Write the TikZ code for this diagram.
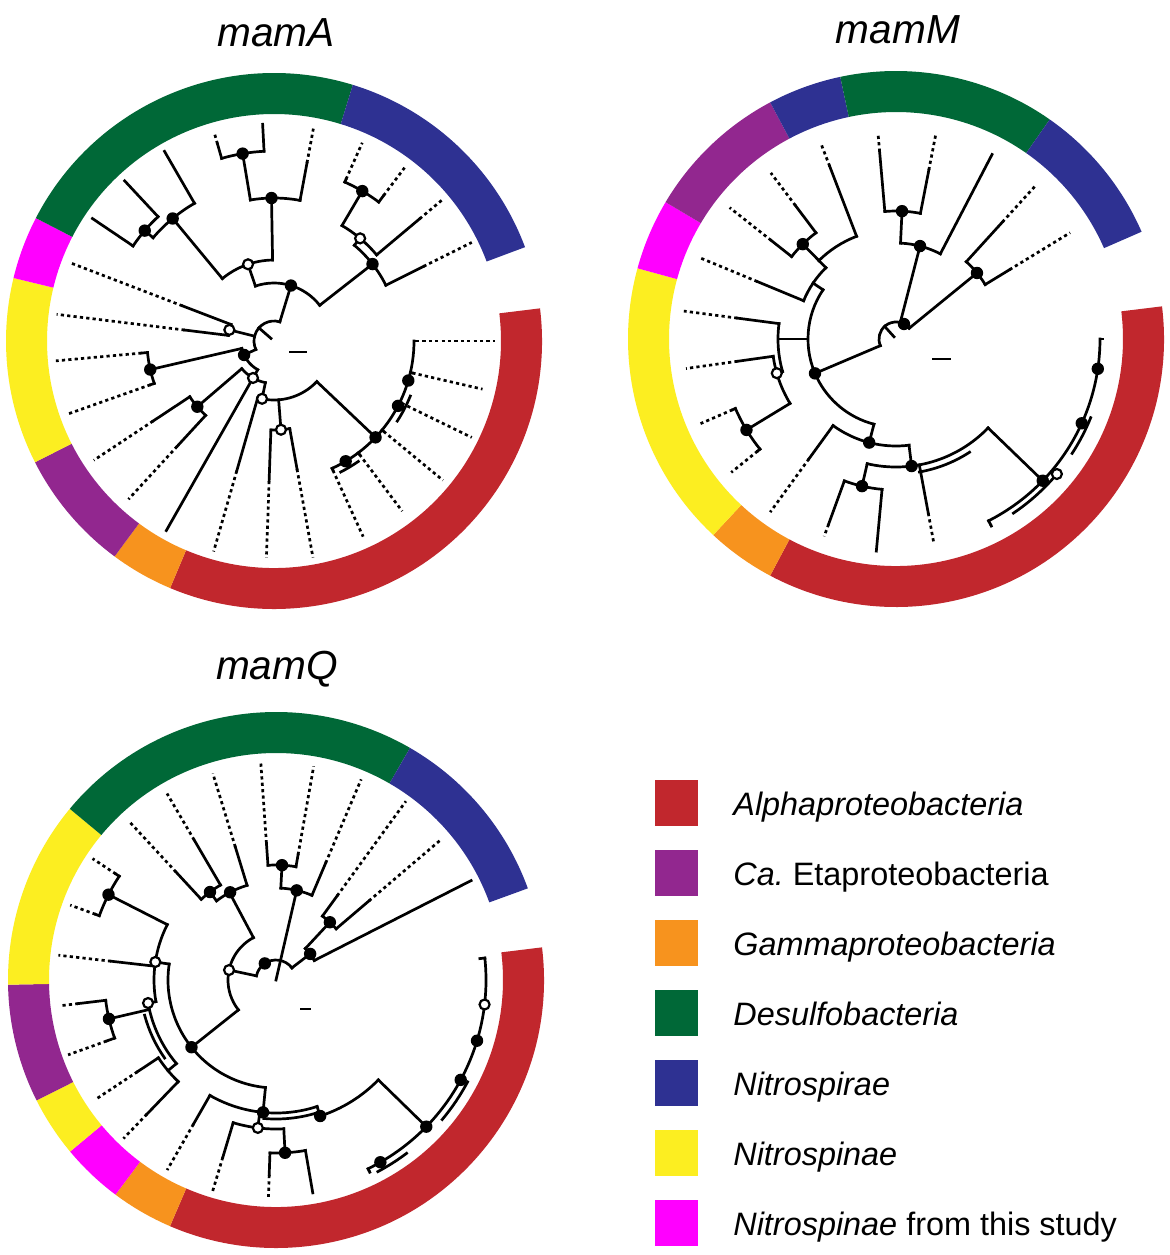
\documentclass[tikz,border=0pt]{standalone}
\usepackage{fontspec}
\setmainfont{Liberation Sans}
\definecolor{cRed}{RGB}{193,39,45}
\definecolor{cPur}{RGB}{146,39,143}
\definecolor{cOra}{RGB}{247,147,30}
\definecolor{cGre}{RGB}{0,104,55}
\definecolor{cBlu}{RGB}{46,49,146}
\definecolor{cYel}{RGB}{252,238,33}
\definecolor{cMag}{RGB}{255,0,255}
\tikzset{
  br/.style={line width=1.35pt, line cap=rect, black},
  dt/.style={line width=1.35pt, dash pattern=on 1.6pt off 1.6pt, black},
  ttl/.style={font=\fontsize{20.3}{24}\selectfont\itshape, anchor=base},
  lgt/.style={font=\fontsize{16.2}{20}\selectfont, anchor=base west, inner sep=0pt},
  lgb/.style={minimum width=21.5pt, minimum height=23pt, inner sep=0pt, draw=none}
}
\newcommand\TAr[3]{\draw[br] (#2:#1) arc[start angle=#2, end angle=#3, radius=#1];}
\newcommand\TRs[3]{\draw[br] (#1:#2) -- (#1:#3);}
\newcommand\TLf[4]{\draw[br] (#1:#2) -- (#1:#3); \draw[dt] (#1:#3) -- (#1:#4);}
\newcommand\TBd[2]{\fill[black] (#1:#2) circle[radius=6.2];}
\newcommand\TWd[2]{\filldraw[fill=white, draw=black, line width=1.1pt] (#1:#2) circle[radius=5];}
\newcommand\TRing[3]{\fill[#1] (#2:227) arc[start angle=#2, end angle=#3, radius=227] -- (#3:268) arc[start angle=#3, end angle=#2, radius=268] -- cycle;}
\begin{document}
\begin{tikzpicture}[x=0.5pt, y=0.5pt]
\useasboundingbox (0,0) rectangle (1170,-1255);
\fill[white] (0,0) rectangle (1170,-1255);

% ---------------- titles
\node[ttl] (tA) at (276,-46) {mamA};
\node[ttl] (tM) at (898,-43) {mamM};
\node[ttl] (tQ) at (277,-679) {mamQ};

% ---------------- mamA
\begin{scope}[shift={(274,-341)}]
\TRing{cRed}{247.2}{367}
\TRing{cOra}{233.5}{247.2}
\TRing{cPur}{206.9}{233.5}
\TRing{cYel}{166.4}{206.9}
\TRing{cMag}{152.7}{166.4}
\TRing{cGre}{72.9}{152.7}
\TRing{cBlu}{20.5}{72.9}
\TAr{20}{73}{205}
\TRs{139}{4}{20}
\TRs{73}{20}{58}
\TAr{58}{38}{108.7}
\TRs{108.7}{58}{81}
\TAr{81}{91}{129.6}
\TRs{129.6}{81}{159}
\TAr{159}{120}{139.5}
\TRs{120}{159}{219}
\TRs{139.5}{159}{170}
\TAr{170}{133}{146}
\TRs{133}{170}{219}
\TRs{146}{170}{219}
\TRs{91}{81}{143}
\TAr{143}{79.5}{99.5}
\TLf{79.5}{143}{181}{216}
\TRs{99.5}{143}{190}
\TAr{190}{93}{106}
\TLf{106}{190}{205}{216}
\TRs{93}{190}{217}
\TRs{38}{58}{125}
\TAr{125}{26.5}{50}
\TLf{26.5}{125}{167}{221}
\TRs{50}{125}{134}
\TAr{134}{40}{59.5}
\TLf{40}{134}{190}{219}
\TRs{59.5}{134}{174}
\TAr{174}{53}{66}
\TLf{53}{174}{182}{217}
\TLf{66}{174}{177}{217}
\TRs{166}{20}{46}
\TAr{46}{159}{173}
\TLf{159}{46}{98}{219}
\TLf{173}{46}{90}{219}
\TRs{205}{20}{33}
\TAr{33}{193}{240.4}
\TRs{193}{33}{127}
\TAr{127}{185.2}{199.5}
\TLf{185.2}{127}{133}{219}
\TLf{199.5}{127}{131}{218}
\TRs{240.4}{33}{42.5}
\TAr{42.5}{220.6}{258.3}
\TRs{220.6}{42.5}{101}
\TAr{101}{213.5}{227.4}
\TLf{213.5}{101}{145}{216}
\TLf{227.4}{101}{143}{215}
\TRs{240.4}{42.5}{218}
\TRs{258.3}{42.5}{59}
\TAr{59}{254}{316.5}
\TLf{254}{59}{135}{219}
\TRs{274.5}{59}{89}
\TAr{89}{268}{280.2}
\TLf{268}{89}{140}{217}
\TLf{280.2}{89}{130}{220}
\TRs{316.5}{59}{140}
\TAr{140}{294.5}{360}
\TLf{360}{140}{142}{221}
\TLf{347}{140}{142}{214}
\TLf{334}{140}{142}{220}
\TLf{320.5}{140}{142}{219}
\TLf{307}{140}{142}{213}
\TLf{294.5}{140}{142}{215}
\TAr{147}{327}{338}
\TAr{147}{297}{305}
\TBd{73}{58} \TWd{108.7}{81} \TBd{129.6}{159} \TBd{139.5}{170}
\TBd{91}{143} \TBd{99.5}{190} \TBd{38}{125} \TWd{50}{134} \TBd{59.5}{174}
\TWd{166}{46} \TBd{205}{33} \TBd{193}{127} \TWd{240.4}{42.5} \TBd{220.6}{101}
\TWd{258.3}{59} \TWd{274.5}{89} \TBd{316.5}{140} \TBd{343.6}{140}
\TBd{332.4}{140} \TBd{300.8}{140}
\end{scope}
\draw[br] (290,-352) -- (306,-352);

% ---------------- mamM
\begin{scope}[shift={(896,-339)}]
\TRing{cRed}{242}{367}
\TRing{cOra}{227}{242}
\TRing{cYel}{164.7}{227}
\TRing{cMag}{149.3}{164.7}
\TRing{cPur}{118}{149.3}
\TRing{cBlu}{102}{118}
\TRing{cGre}{55}{102}
\TRing{cBlu}{23.6}{55}
\TAr{17}{39.2}{203}
\TRs{132}{3}{17}
\TRs{75.5}{17}{96}
\TAr{96}{62.5}{87.3}
\TRs{62.5}{96}{208}
\TRs{87.3}{96}{128}
\TAr{128}{79}{95}
\TLf{79}{128}{172}{209}
\TLf{95}{128}{188}{206}
\TRs{39.2}{17}{104.5}
\TAr{104.5}{31.4}{47.7}
\TLf{47.7}{104.5}{158}{206}
\TLf{31.4}{104.5}{133}{204}
\TRs{203}{17}{88}
\TAr{88}{146}{255.5}
\TRs{146}{88}{100}
\TAr{100}{134.5}{157.5}
\TLf{157.5}{100}{150}{214}
\TRs{134.5}{100}{110}
\TAr{110}{111}{134.5}
\TLf{111}{110}{185}{208}
\TRs{134.5}{110}{133}
\TAr{133}{127}{141.7}
\TLf{141.7}{133}{159}{212}
\TLf{127}{133}{167}{208}
\TRs{180}{88}{118}
\TAr{118}{172.5}{196}
\TLf{172.5}{118}{160}{214}
\TRs{196}{118}{124}
\TAr{124}{188}{211.3}
\TLf{188}{124}{160}{212}
\TRs{211.3}{124}{175}
\TAr{175}{203.4}{219}
\TLf{203.4}{175}{178}{213}
\TLf{219}{175}{178}{212}
\TRs{255.5}{88}{107}
\TAr{107}{234}{277}
\TLf{234}{107}{148}{214}
\TRs{277}{107}{128}
\TAr{128}{257}{316}
\TRs{257}{128}{151}
\TAr{151}{250}{264.7}
\TLf{250}{151}{197}{210}
\TRs{264.7}{151}{213}
\TLf{280.5}{128}{177}{208}
\TAr{135}{280}{303}
\TRs{316}{128}{204}
\TAr{204}{297}{360}
\TLf{297}{204}{208}{212}
\TRs{360}{204}{207}
\TAr{210}{304}{320}
\TAr{210}{327}{338}
\TBd{62}{17} \TBd{75.5}{96} \TBd{87.3}{128} \TBd{39.2}{104.5}
\TBd{203}{88} \TBd{134.5}{133} \TWd{196}{124} \TBd{211.3}{175}
\TBd{255.5}{107} \TBd{277}{128} \TBd{257}{151} \TBd{316}{204}
\TWd{320}{210} \TBd{335.6}{204} \TBd{351.6}{204}
\end{scope}
\draw[br] (933,-359) -- (950,-359);

% ---------------- mamQ
\begin{scope}[shift={(276,-980)}]
\TRing{cRed}{246.7}{367}
\TRing{cOra}{233.2}{246.7}
\TRing{cMag}{219.8}{233.2}
\TRing{cYel}{206.7}{219.8}
\TRing{cPur}{181}{206.7}
\TRing{cYel}{140.3}{181}
\TRing{cGre}{60}{140.3}
\TRing{cBlu}{20}{60}
\TAr{20}{37}{168}
\TRs{77}{0}{92}
\TAr{92}{67}{87}
\TLf{67}{92}{127}{218}
\TRs{87}{92}{115}
\TAr{115}{80}{94}
\TLf{80}{115}{127}{217}
\TLf{94}{115}{137}{218}
\TRs{37.4}{20}{43}
\TAr{43}{27}{47}
\TRs{27}{43}{219}
\TRs{47}{43}{79}
\TAr{79}{40.4}{54}
\TLf{54}{79}{104}{221}
\TLf{40.4}{79}{122}{218}
\TRs{168}{20}{48}
\TAr{48}{118}{218.5}
\TRs{118}{48}{99}
\TAr{99}{107}{126.9}
\TLf{107}{99}{139}{216}
\TRs{126.9}{99}{110}
\TAr{110}{120.3}{132.8}
\TLf{132.8}{110}{147}{217}
\TLf{120.3}{110}{162}{216}
\TRs{218.5}{48}{108}
\TAr{108}{171.5}{264.4}
\TRs{171.5}{108}{122}
\TAr{122}{153}{190.2}
\TRs{153}{122}{188}
\TAr{188}{146.5}{160}
\TLf{146.5}{188}{192}{220}
\TLf{160}{188}{192}{219}
\TLf{173.5}{122}{166}{219}
\TRs{190.2}{122}{130}
\TAr{130}{190.2}{220}
\TRs{193.1}{130}{171.5}
\TAr{171.5}{186.8}{199.8}
\TLf{186.8}{171.5}{199}{217}
\TLf{199.8}{171.5}{180}{221}
\TRs{220}{130}{141}
\TAr{141}{213.5}{226.1}
\TLf{213.5}{141}{166}{216}
\TLf{226.1}{141}{186}{220}
\TAr{136}{195}{215}
\TRs{264.4}{108}{133}
\TAr{133}{240.2}{288}
\TLf{240.2}{133}{166}{219}
\TRs{263}{133}{149}
\TAr{149}{253.3}{273}
\TLf{253.3}{149}{185}{221}
\TRs{273}{149}{173}
\TAr{173}{268}{279.8}
\TLf{268}{173}{195}{217}
\TRs{279.8}{173}{216}
\TAr{139}{265}{287}
\TRs{288}{133}{143}
\TAr{143}{288}{315.7}
\TRs{315.7}{143}{210}
\TAr{210}{296}{366}
\TLf{296}{210}{212}{216}
\TRs{366}{205}{210}
\TAr{217}{298}{307}
\TAr{217}{320}{332}
\TBd{77}{92} \TBd{87}{115} \TBd{37.4}{43} \TBd{47}{79} \TBd{124}{20}
\TWd{168}{48} \TBd{117.6}{99} \TBd{126.9}{110} \TBd{218.5}{108}
\TWd{171.5}{122} \TBd{153}{188} \TWd{190.2}{130} \TBd{193.1}{171.5}
\TBd{264.4}{133} \TWd{263}{149} \TBd{273}{173} \TBd{288}{143}
\TBd{315.7}{210} \TBd{299.8}{210} \TBd{331.6}{210} \TBd{343.2}{210}
\TWd{353.3}{210}
\end{scope}
\draw[br] (301,-1009) -- (310,-1009);

% ---------------- legend
\node[lgb, fill=cRed] (k1) at (676.5,-803) {};
\node[lgb, fill=cPur] (k2) at (676.5,-873) {};
\node[lgb, fill=cOra] (k3) at (676.5,-943) {};
\node[lgb, fill=cGre] (k4) at (676.5,-1013) {};
\node[lgb, fill=cBlu] (k5) at (676.5,-1083) {};
\node[lgb, fill=cYel] (k6) at (676.5,-1153) {};
\node[lgb, fill=cMag] (k7) at (676.5,-1223) {};
\node[lgt] (l1) at (733,-815) {\itshape Alphaproteobacteria};
\node[lgt] (l2) at (733,-885) {\itshape Ca.\upshape\ Etaproteobacteria};
\node[lgt] (l3) at (733,-955) {\itshape Gammaproteobacteria};
\node[lgt] (l4) at (733,-1025) {\itshape Desulfobacteria};
\node[lgt] (l5) at (733,-1095) {\itshape Nitrospirae};
\node[lgt] (l6) at (733,-1165) {\itshape Nitrospinae};
\node[lgt] (l7) at (733,-1235) {\itshape Nitrospinae\upshape\ from this study};
\end{tikzpicture}
\end{document}
